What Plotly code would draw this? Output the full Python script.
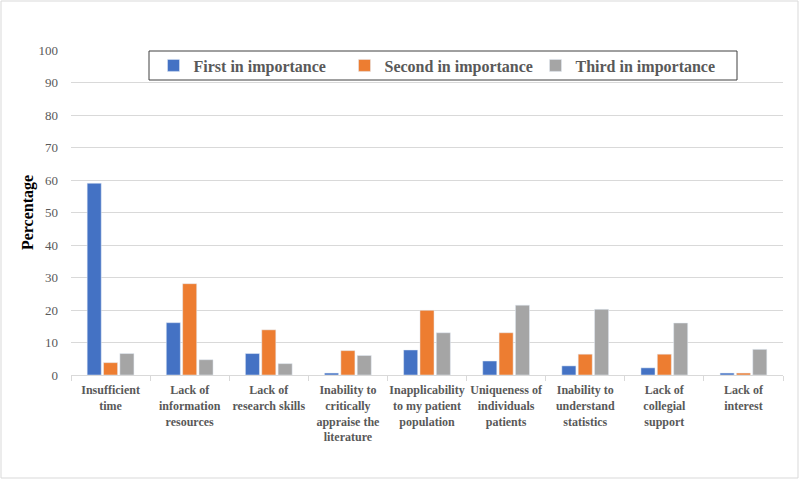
import plotly.graph_objects as go

categories = [
    "Insufficient<br>time",
    "Lack of<br>information<br>resources",
    "Lack of<br>research skills",
    "Inability to<br>critically<br>appraise the<br>literature",
    "Inapplicability<br>to my patient<br>population",
    "Uniqueness of<br>individuals<br>patients",
    "Inability to<br>understand<br>statistics",
    "Lack of<br>collegial<br>support",
    "Lack of<br>interest",
]
first = [59.0, 16.1, 6.6, 0.6, 7.7, 4.3, 2.8, 2.2, 0.6]
second = [3.8, 28.1, 13.9, 7.5, 19.9, 13.0, 6.4, 6.4, 0.6]
third = [6.6, 4.7, 3.5, 6.0, 13.0, 21.5, 20.2, 16.0, 7.9]
y_ticks = [0, 10, 20, 30, 40, 50, 60, 70, 80, 90, 100]

SERIF = "Times New Roman, Liberation Serif, serif"
W, H = 800, 480
ML, MR, MT, MB = 71, 17, 50, 105
PW, PH = W - ML - MR, H - MT - MB


def px_x(x):
    return (x - ML) / PW


def px_y(y):
    return (MT + PH - y) / PH


fig = go.Figure()
fig.add_trace(go.Bar(name="First in importance", x=categories, y=first, marker_color="#4472C4"))
fig.add_trace(go.Bar(name="Second in importance", x=categories, y=second, marker_color="#ED7D31"))
fig.add_trace(go.Bar(name="Third in importance", x=categories, y=third, marker_color="#A5A5A5"))

fig.update_layout(
    width=W, height=H,
    margin=dict(l=ML, r=MR, t=MT, b=MB, autoexpand=False),
    paper_bgcolor="white", plot_bgcolor="white",
    barmode="group", bargap=0.38, bargroupgap=0.14,
    font=dict(family=SERIF, color="#595959"),
    legend=dict(
        orientation="h", x=px_x(440), xanchor="center", y=px_y(65.5), yanchor="middle",
        borderwidth=0, bgcolor="rgba(0,0,0,0)",
        font=dict(family=SERIF, size=16, color="#595959", weight="bold"),
        entrywidth=146, entrywidthmode="pixels",
    ),
    xaxis=dict(
        showline=True, linecolor="#D9D9D9", ticks="outside", tickson="boundaries",
        ticklen=5, tickcolor="#D9D9D9",
        tickfont=dict(family=SERIF, size=12, color="#595959", weight="bold"),
        tickangle=0, ticklabelstandoff=4,
    ),
    yaxis=dict(
        range=[0, 100], tickvals=y_ticks, showgrid=True, gridcolor="#D9D9D9",
        zeroline=False, showline=False, ticklabelstandoff=12,
        tickfont=dict(family=SERIF, size=13, color="#595959"),
        title=dict(text="Percentage", font=dict(family=SERIF, size=16, color="black", weight="bold"), standoff=0),
    ),
    shapes=[
        dict(
            type="rect", xref="paper", yref="paper",
            x0=px_x(149), x1=px_x(737), y0=px_y(80), y1=px_y(51),
            line=dict(color="#404040", width=1), fillcolor="white", layer="above",
        ),
        dict(
            type="rect", xref="paper", yref="paper",
            x0=px_x(1), x1=px_x(798), y0=px_y(478), y1=px_y(1),
            line=dict(color="#D9D9D9", width=1), fillcolor="rgba(0,0,0,0)", layer="below",
        ),
    ],
)

fig.write_html(
    "out.html",
    config={"displayModeBar": False},
    post_script="document.body.style.margin='0px';",
)
